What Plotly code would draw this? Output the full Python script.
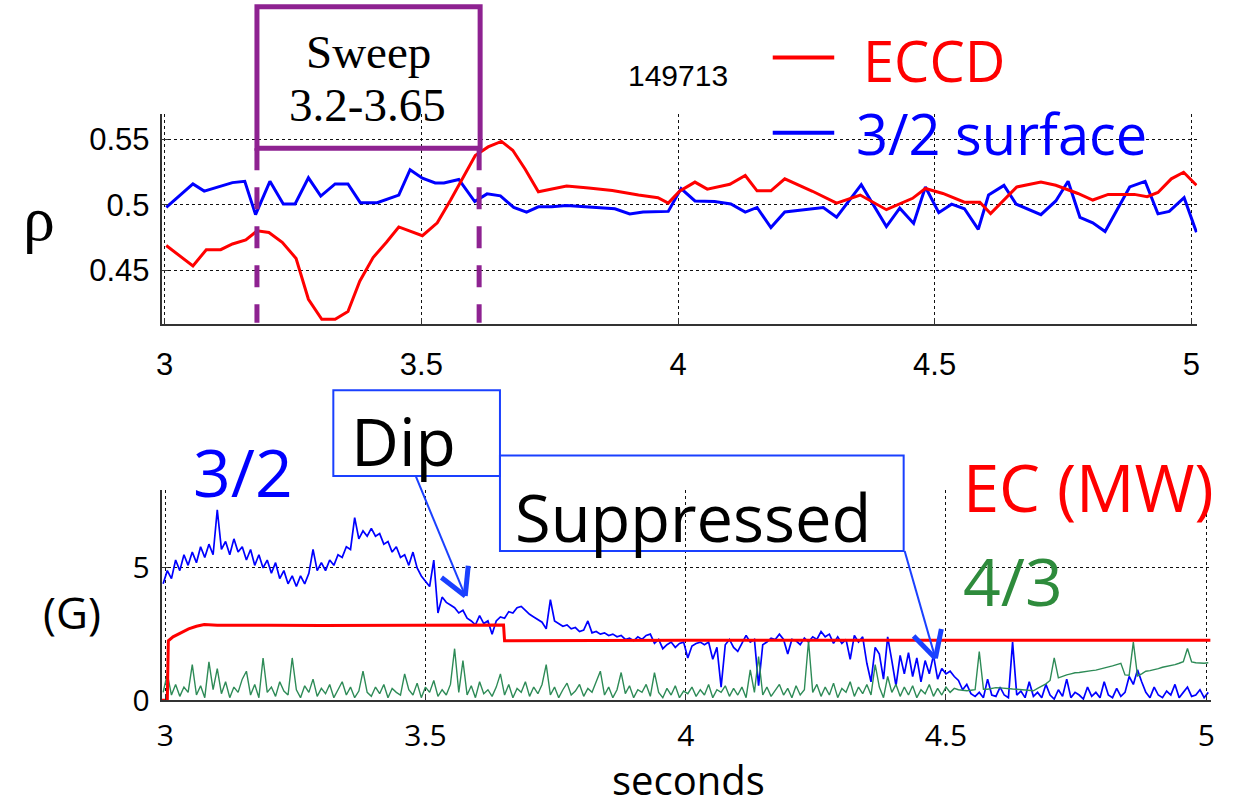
import plotly.graph_objects as go

W, H = 1234, 812

# ---------------- top panel data (rho vs time) ----------------
eccd_t = [3.003, 3.055, 3.081, 3.109, 3.132, 3.158, 3.180, 3.203, 3.229, 3.256, 3.280, 3.306, 3.332,
          3.357, 3.380, 3.406, 3.432, 3.456, 3.502, 3.531, 3.557, 3.583, 3.605, 3.630, 3.656, 3.678,
          3.702, 3.728, 3.754, 3.783, 3.826, 3.872, 3.923, 3.961, 3.981, 4.003, 4.033, 4.057, 4.101,
          4.131, 4.154, 4.181, 4.208, 4.262, 4.309, 4.355, 4.406, 4.457, 4.482, 4.516, 4.558, 4.588,
          4.609, 4.635, 4.660, 4.707, 4.736, 4.779, 4.808, 4.838, 4.889, 4.914, 4.935, 4.961, 4.985, 5.010]
eccd_rho = [0.4689, 0.4532, 0.4657, 0.4657, 0.4701, 0.4731, 0.4801, 0.4789, 0.4714, 0.4590, 0.4278,
            0.4125, 0.4125, 0.4184, 0.4416, 0.4597, 0.4714, 0.4831, 0.4764, 0.4863, 0.5037, 0.5224,
            0.5378, 0.5443, 0.5485, 0.5418, 0.5274, 0.5100, 0.5120, 0.5144, 0.5129, 0.5110, 0.5075,
            0.5055, 0.5013, 0.5104, 0.5174, 0.5120, 0.5157, 0.5224, 0.5107, 0.5107, 0.5199, 0.5104,
            0.5013, 0.5075, 0.4963, 0.5050, 0.5125, 0.5087, 0.5020, 0.5020, 0.4933, 0.5037, 0.5137,
            0.5174, 0.5150, 0.5087, 0.5037, 0.5080, 0.5080, 0.5062, 0.5095, 0.5199, 0.5249, 0.5150]

q32_t = [3.003, 3.055, 3.077, 3.106, 3.132, 3.156, 3.177, 3.205, 3.231, 3.254, 3.280, 3.304, 3.332,
         3.357, 3.381, 3.414, 3.456, 3.478, 3.502, 3.527, 3.544, 3.573, 3.604, 3.628, 3.654, 3.680,
         3.705, 3.728, 3.754, 3.783, 3.821, 3.877, 3.906, 3.932, 3.981, 4.006, 4.033, 4.071, 4.103,
         4.131, 4.154, 4.181, 4.208, 4.245, 4.283, 4.309, 4.357, 4.406, 4.432, 4.459, 4.482, 4.508,
         4.533, 4.558, 4.585, 4.605, 4.635, 4.659, 4.707, 4.736, 4.760, 4.783, 4.808, 4.832, 4.880,
         4.910, 4.935, 4.957, 4.986, 5.010]
q32_rho = [0.4980, 0.5160, 0.5105, 0.5140, 0.5170, 0.5180, 0.4925, 0.5180, 0.5007, 0.5007, 0.5207,
           0.5067, 0.5160, 0.5160, 0.5017, 0.5017, 0.5075, 0.5269, 0.5204, 0.5167, 0.5167, 0.5194,
           0.5025, 0.5084, 0.5069, 0.4980, 0.4945, 0.4985, 0.4985, 0.4995, 0.4985, 0.4970, 0.4930,
           0.4945, 0.4950, 0.5125, 0.5030, 0.5025, 0.5007, 0.4945, 0.4980, 0.4826, 0.4945, 0.4960,
           0.4980, 0.4905, 0.5154, 0.4834, 0.4975, 0.4858, 0.5137, 0.4940, 0.5005, 0.4970, 0.4813,
           0.5075, 0.5149, 0.5005, 0.4925, 0.5030, 0.5180, 0.4905, 0.4863, 0.4796, 0.5137, 0.5180,
           0.4931, 0.4950, 0.5055, 0.4790]

# ---------------- bottom panel data (G and MW vs time) ----------------
sample_t0 = 2.996   # first sample time of the magnetics signals (s)
sample_dt = 0.008   # sampling step used when reading the traces (s)

mode32_G = [
    4.4, 4.9, 4.6, 5.3, 4.9, 5.5, 5.1, 5.6, 5.2, 5.8,
    5.4, 5.9, 5.5, 7.2, 5.7, 6.0, 5.5, 6.1, 5.6, 5.8,
    5.3, 5.7, 5.1, 5.5, 5.0, 5.3, 4.8, 5.2, 4.6, 4.9,
    4.4, 4.7, 4.3, 4.7, 4.4, 4.8, 5.7, 4.9, 5.2, 4.9,
    5.3, 5.1, 5.5, 5.4, 5.8, 5.7, 6.9, 6.1, 6.4, 6.2,
    6.5, 6.2, 6.3, 5.9, 6.0, 5.6, 5.8, 5.4, 5.5, 5.1,
    5.6, 5.0, 4.7, 4.5, 4.3, 5.3, 3.3, 3.9, 3.7, 3.6,
    3.5, 3.3, 3.4, 3.1, 3.0, 2.85, 3.2, 2.9, 3.0, 2.5,
    3.0, 3.15, 3.1, 3.35, 3.3, 3.5, 3.55, 3.4, 3.25, 3.15,
    3.05, 2.95, 2.7, 3.8, 3.0, 2.9, 2.8, 2.85, 2.7, 2.75,
    2.6, 2.65, 3.0, 2.55, 2.6, 2.5, 2.55, 2.45, 2.5, 2.4,
    2.45, 2.3, 2.35, 2.25, 2.4, 2.3, 2.45, 2.5, 2.15, 2.3,
    1.95, 2.1, 2.2, 2.0, 2.15, 2.2, 1.6, 2.05, 2.15, 2.2,
    2.1, 2.2, 1.55, 2.0, 0.5, 2.1, 2.3, 2.0, 1.85, 2.15,
    2.45, 2.2, 2.3, 0.55, 2.1, 2.2, 2.35, 2.3, 2.5, 2.3,
    1.75, 2.3, 2.25, 2.1, 2.35, 2.2, 2.4, 2.3, 2.6, 2.4,
    2.5, 2.15, 2.4, 2.15, 2.3, 1.55, 2.45, 2.2, 2.4, 1.4,
    0.7, 2.0, 1.75, 0.8, 2.4, 1.5, 0.55, 1.7, 1.0, 1.8,
    0.9, 1.6, 0.7, 1.5, 1.0, 1.7, 0.8, 1.2, 1.0, 1.1,
    0.9, 0.75, 0.4, 0.6, 0.25, 0.15, 0.3, 0.1, 0.8, 0.2,
    0.15, 0.5, 0.2, 0.1, 2.2, 0.2, 0.35, 0.1, 0.7, 0.15,
    0.3, 0.1, 0.6, 0.2, 0.05, 0.4, 0.15, 0.8, 0.1, 0.3,
    0.2, 0.05, 0.5, 0.15, 0.3, 0.1, 0.7, 0.2, 0.1, 0.45,
    0.15, 0.3, 0.9, 0.6, 1.15, 0.7, 0.3, 0.1, 0.5, 0.2,
    0.1, 0.35, 0.2, 0.6, 0.1, 0.3, 0.5, 0.15, 0.2, 0.4,
    0.1, 0.3]

mode43_G = [
    0.3, 1.0, 0.2, 0.6, 0.15, 0.5, 0.3, 1.35, 0.2, 0.55,
    0.1, 1.45, 0.4, 1.2, 0.25, 0.7, 0.1, 0.5, 0.3, 0.8,
    1.1, 0.2, 0.6, 0.1, 1.6, 0.3, 0.5, 0.15, 0.7, 0.35,
    0.2, 1.6, 0.4, 0.1, 0.55, 0.3, 0.8, 0.15, 0.45, 0.25,
    0.6, 0.1, 0.4, 0.7, 0.2, 0.5, 0.1, 0.35, 1.1, 0.3,
    0.15, 0.5, 0.25, 0.6, 0.1, 0.45, 0.3, 0.2, 1.0, 0.4,
    0.2, 0.65, 0.1, 0.5, 0.3, 0.75, 0.15, 0.4, 0.2, 0.6,
    1.95, 0.3, 1.5, 0.2, 0.55, 0.1, 0.7, 0.25, 0.4, 0.15,
    0.5, 1.0, 0.2, 0.6, 0.1, 0.45, 0.3, 0.7, 0.15, 0.5,
    0.25, 0.6, 1.35, 0.2, 0.5, 0.1, 0.4, 0.65, 0.2, 0.35,
    0.6, 0.15, 0.45, 0.3, 0.7, 1.1, 0.2, 0.5, 0.1, 0.4,
    1.05, 0.25, 0.55, 0.1, 0.4, 0.3, 0.6, 0.15, 1.05, 0.3,
    0.1, 0.45, 0.2, 0.55, 0.1, 0.35, 0.25, 0.5, 0.15, 0.4,
    0.2, 0.6, 0.1, 0.4, 0.3, 0.55, 0.15, 0.45, 0.2, 0.5,
    0.1, 1.15, 0.3, 1.65, 0.2, 0.5, 0.15, 0.4, 0.6, 0.2,
    0.45, 0.1, 0.55, 0.2, 0.4, 2.25, 0.3, 0.6, 0.15, 0.5,
    0.2, 0.65, 0.1, 0.45, 0.3, 0.7, 0.15, 0.5, 0.25, 0.6,
    0.2, 1.35, 0.5, 0.1, 0.9, 0.3, 0.6, 0.15, 0.5, 0.2,
    0.55, 0.1, 0.4, 0.25, 0.6, 0.15, 0.45, 0.2, 0.5, 0.3,
    0.45, 0.4, 0.38, 0.36, 0.38, 0.4, 1.84, 0.42, 0.42, 0.44,
    0.48, 0.47, 0.45, 0.44, 0.43, 0.42, 0.4, 0.38, 0.37, 0.36,
    0.45, 0.54, 0.62, 0.75, 1.6, 0.85, 0.92, 0.96, 1.0, 1.04,
    1.05, 1.08, 1.1, 1.12, 1.14, 1.18, 1.2, 1.25, 1.3, 1.35,
    1.4, 0.96, 0.95, 2.2, 0.92, 1.0, 1.1, 1.12, 1.15, 1.2,
    1.25, 1.28, 1.33, 1.35, 1.4, 1.46, 1.96, 1.45, 1.42, 1.4,
    1.4, 1.42]

ec_t = [2.993, 3.004, 3.006, 3.015, 3.030, 3.045, 3.060, 3.075, 3.100, 3.150, 3.200, 3.300,
        3.400, 3.500, 3.600, 3.650, 3.652, 3.750, 3.850, 4.000, 4.200, 4.400, 4.600, 4.800, 5.008]
ec_MW = [0.0, 0.0, 2.25, 2.40, 2.55, 2.70, 2.80, 2.86, 2.84, 2.83, 2.84, 2.83,
         2.84, 2.84, 2.84, 2.85, 2.25, 2.26, 2.27, 2.27, 2.27, 2.27, 2.27, 2.27, 2.27]

x_ticks = [3, 3.5, 4, 4.5, 5]
x_ticktext = ["3", "3.5", "4", "4.5", "5"]
rho_ticks = [0.45, 0.5, 0.55]
rho_ticktext = ["0.45", "0.5", "0.55"]
g_ticks = [0, 5]
g_ticktext = ["0", "5"]

sample_times = [round(sample_t0 + sample_dt * i, 4) for i in range(len(mode32_G))]

# ---------------- figure ----------------
def PX(x):
    return x / W

def PY(y):
    return 1 - y / H

RED = "#ff0000"
BLUE = "#0000ff"
GREEN = "#2e8b57"
PURPLE = "#8e2291"
BOXBLUE = "#1a40ff"
GOTHIC = "Open Sans"

fig = go.Figure()
fig.add_trace(go.Scatter(x=q32_t, y=q32_rho, mode="lines", line=dict(color=BLUE, width=3),
                         xaxis="x", yaxis="y", name="3/2 surface"))
fig.add_trace(go.Scatter(x=eccd_t, y=eccd_rho, mode="lines", line=dict(color=RED, width=3),
                         xaxis="x", yaxis="y", name="ECCD"))
fig.add_trace(go.Scatter(x=sample_times, y=mode32_G, mode="lines", line=dict(color=BLUE, width=1.7),
                         xaxis="x2", yaxis="y2", name="3/2"))
fig.add_trace(go.Scatter(x=sample_times, y=mode43_G, mode="lines", line=dict(color=GREEN, width=1.4),
                         xaxis="x2", yaxis="y2", name="4/3"))
fig.add_trace(go.Scatter(x=ec_t, y=ec_MW, mode="lines", line=dict(color=RED, width=3),
                         xaxis="x2", yaxis="y2", name="EC (MW)"))

top_tick_font = dict(family="Liberation Sans, Arial", size=31, color="black")
bot_tick_font = dict(family=GOTHIC, size=30, color="black")
common = dict(showgrid=True, griddash="dot", gridcolor="#111", gridwidth=1,
              showline=True, linecolor="#333", linewidth=2, zeroline=False,
              ticks="inside", ticklen=6, tickcolor="#333")

fig.update_layout(
    width=W, height=H, margin=dict(l=0, r=0, t=0, b=0),
    paper_bgcolor="white", plot_bgcolor="white", showlegend=False,
    xaxis=dict(domain=[PX(157), PX(1201)], range=[2.9942, 5.0116], anchor="y",
               tickvals=x_ticks, ticktext=x_ticktext, tickfont=top_tick_font,
               ticklabelstandoff=12, **common),
    yaxis=dict(domain=[PY(332), PY(117)], range=[0.409, 0.5694], anchor="x",
               tickvals=rho_ticks, ticktext=rho_ticktext, tickfont=top_tick_font,
               ticklabelstandoff=4, **common),
    xaxis2=dict(domain=[PX(157), PX(1215)], range=[2.9933, 5.0095], anchor="y2",
                tickvals=x_ticks, ticktext=x_ticktext, tickfont=bot_tick_font,
                ticklabelstandoff=8, **common),
    yaxis2=dict(domain=[PY(718), PY(502)], range=[0, 7.96], anchor="x2",
                tickvals=g_ticks, ticktext=g_ticktext, tickfont=bot_tick_font,
                ticklabelstandoff=4, **common),
)

shapes = []
def line(x0, y0, x1, y1, color, width, dash=None):
    d = dict(type="line", xref="paper", yref="paper", x0=PX(x0), y0=PY(y0), x1=PX(x1), y1=PY(y1),
             line=dict(color=color, width=width))
    if dash:
        d["line"]["dash"] = dash
    shapes.append(d)

def rect(x0, y0, x1, y1, color, width):
    shapes.append(dict(type="rect", xref="paper", yref="paper", x0=PX(x0), y0=PY(y1), x1=PX(x1), y1=PY(y0),
                       line=dict(color=color, width=width), fillcolor="rgba(0,0,0,0)"))

# Sweep box and dashed markers
rect(253, 7, 478, 152, PURPLE, 5)
line(253, 152, 253, 331, PURPLE, 5, dash="22px,17px")
line(477, 152, 477, 331, PURPLE, 5, dash="22px,17px")
# legend samples
line(773, 59, 835, 59, RED, 4)
line(773, 136, 835, 136, BLUE, 4)
# callout boxes and arrows
rect(330, 400, 498, 488, BOXBLUE, 2)
rect(498, 467, 905, 565, BOXBLUE, 2)
line(413, 488, 463, 611, BOXBLUE, 2)
line(439, 592, 463, 611, BOXBLUE, 5)
line(466, 580, 463, 611, BOXBLUE, 5)
line(906, 565, 937, 675, BOXBLUE, 2)
line(915, 652, 937, 675, BOXBLUE, 5)
line(943, 645, 937, 675, BOXBLUE, 5)
fig.update_layout(shapes=shapes)

def text(t, x, y, size, color="black", family=GOTHIC, xanchor="center"):
    fig.add_annotation(text=t, x=PX(x), y=PY(y), xref="paper", yref="paper", showarrow=False,
                       xanchor=xanchor, yanchor="middle",
                       font=dict(family=family, size=size, color=color))

text("Sweep", 365, 53, 47, family="Liberation Serif")
text("3.2-3.65", 364, 108, 47, family="Liberation Serif")
text("149713", 677, 77.6, 30, family="Liberation Sans")
text("ECCD", 936, 61.5, 56, color=RED)
text("3/2 surface", 855, 136.5, 56, color=BLUE, xanchor="left")
text("ρ", 33, 224, 64, family="Liberation Serif")
text("Dip", 401, 451, 66)
text("Suppressed", 692.5, 530, 65)
text("3/2", 238.5, 483, 66, color=BLUE)
text("EC (MW)", 1091, 499, 65, color=RED)
text("4/3", 1015.5, 595, 66, color="#2e8b3c")
text("(G)", 67, 627, 44)
text("seconds", 688, 799, 40)

fig.write_html("out.html")
